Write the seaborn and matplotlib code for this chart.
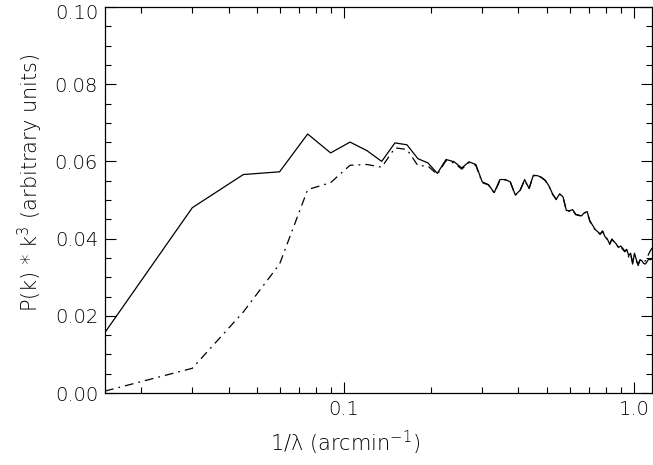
import numpy as np
import pandas as pd
import matplotlib
matplotlib.use("Agg")
import matplotlib.pyplot as plt
import matplotlib.ticker as mticker
import matplotlib.transforms as mtransforms
import seaborn as sns

# spatial frequency 1/lambda (arcmin^-1)
freq = [0.015, 0.030, 0.045, 0.060, 0.075, 0.090, 0.105, 0.120, 0.135, 0.150,
        0.165, 0.180, 0.195, 0.210, 0.225, 0.240, 0.255, 0.270, 0.285, 0.300,
        0.315, 0.330, 0.345, 0.360, 0.375, 0.390, 0.405, 0.420, 0.435, 0.450,
        0.465, 0.480, 0.495, 0.510, 0.525, 0.540, 0.555, 0.570, 0.585, 0.600,
        0.615, 0.630, 0.645, 0.660, 0.675, 0.690, 0.705, 0.720, 0.735, 0.750,
        0.765, 0.780, 0.795, 0.810, 0.825, 0.840, 0.855, 0.870, 0.885, 0.900,
        0.915, 0.930, 0.945, 0.960, 0.975, 0.990, 1.005, 1.020, 1.035, 1.050,
        1.065, 1.080, 1.095, 1.110, 1.125, 1.140, 1.155]

# P(k)*k^3, solid curve
power_solid = [0.0157, 0.0480, 0.0566, 0.0573, 0.0671, 0.0622, 0.0650, 0.0628, 0.0600, 0.0648,
               0.0643, 0.0607, 0.0596, 0.0569, 0.0605, 0.0599, 0.0583, 0.0599, 0.0592, 0.0547,
               0.0540, 0.0519, 0.0553, 0.0553, 0.0547, 0.0513, 0.0525, 0.0553, 0.0530, 0.0564,
               0.0563, 0.0559, 0.0551, 0.0536, 0.0515, 0.0502, 0.0516, 0.0508, 0.0473, 0.0472,
               0.0475, 0.0463, 0.0461, 0.0459, 0.0467, 0.0470, 0.0446, 0.0435, 0.0424, 0.0418,
               0.0412, 0.0420, 0.0405, 0.0399, 0.0386, 0.0399, 0.0392, 0.0386, 0.0377, 0.0381,
               0.0375, 0.0368, 0.0372, 0.0356, 0.0362, 0.0334, 0.0362, 0.0345, 0.0330, 0.0345,
               0.0343, 0.0336, 0.0334, 0.0340, 0.0347, 0.0345, 0.0348]

# P(k)*k^3, dash-dot curve
power_dashdot = [0.0005, 0.0064, 0.0210, 0.0334, 0.0527, 0.0545, 0.0590, 0.0592, 0.0585, 0.0635,
                 0.0631, 0.0589, 0.0588, 0.0566, 0.0602, 0.0596, 0.0580, 0.0597, 0.0590, 0.0545,
                 0.0539, 0.0518, 0.0550, 0.0552, 0.0546, 0.0512, 0.0524, 0.0551, 0.0529, 0.0563,
                 0.0562, 0.0558, 0.0550, 0.0535, 0.0514, 0.0501, 0.0515, 0.0507, 0.0472, 0.0471,
                 0.0474, 0.0462, 0.0460, 0.0458, 0.0466, 0.0469, 0.0445, 0.0434, 0.0423, 0.0417,
                 0.0411, 0.0419, 0.0404, 0.0398, 0.0385, 0.0398, 0.0391, 0.0385, 0.0376, 0.0380,
                 0.0372, 0.0366, 0.0370, 0.0352, 0.0360, 0.0338, 0.0357, 0.0342, 0.0334, 0.0344,
                 0.0346, 0.0340, 0.0342, 0.0350, 0.0360, 0.0368, 0.0376]

y_ticks = [0.00, 0.02, 0.04, 0.06, 0.08, 0.10]
x_ticks = [0.1, 1.0]
x_ticklabels = ["0.1", "1.0"]

df = pd.concat([
    pd.DataFrame({"freq": freq, "power": power_solid, "curve": "solid"}),
    pd.DataFrame({"freq": freq, "power": power_dashdot, "curve": "dashdot"}),
], ignore_index=True)

sns.set_theme(style="ticks")
plt.rcParams["font.family"] = ["DejaVu Sans"]
plt.rcParams["font.weight"] = "light"
plt.rcParams["axes.labelweight"] = "light"

fig = plt.figure(figsize=(6.53, 4.65), dpi=100)
top_px, bottom_px = 7, 393
ax = fig.add_axes([105 / 653, 1 - bottom_px / 465, (652 - 105) / 653, (bottom_px - top_px) / 465])

sns.lineplot(data=df, x="freq", y="power", style="curve",
             dashes={"solid": "", "dashdot": (7, 4, 1.5, 4)},
             color="black", linewidth=0.9, estimator=None, sort=False,
             legend=False, ax=ax)

ax.set_xscale("log")
ax.set_xlim(0.015, 1.155)
ax.set_ylim(0.0, 0.1)

ax.set_xticks(x_ticks)
ax.set_xticklabels(x_ticklabels)
ax.xaxis.set_minor_locator(mticker.LogLocator(base=10, subs=np.arange(2, 10)))
ax.xaxis.set_minor_formatter(mticker.NullFormatter())
ax.set_yticks(y_ticks)
ax.yaxis.set_major_formatter(mticker.FormatStrFormatter("%.2f"))
ax.yaxis.set_minor_locator(mticker.MultipleLocator(0.005))

for s in ax.spines.values():
    s.set_visible(True)
    s.set_color("black")
    s.set_linewidth(0.9)

ax.tick_params(which="both", direction="in", top=True, right=True,
               color="black", width=0.8)
ax.tick_params(which="major", length=8, labelsize=14, pad=5, labelcolor="black")
ax.tick_params(which="minor", length=4.5)

ax.set_xlabel("1/\u03bb (arcmin$^{-1}$)", fontsize=15, color="black", fontweight="light")
ax.set_ylabel("P(k) * k$^3$ (arbitrary units)", fontsize=15, color="black", fontweight="light")
ax.xaxis.set_label_coords((345 - 105) / 547, -(443 - 393) / 386, transform=ax.transAxes)
ax.yaxis.set_label_coords(-(105 - 30) / 547, (393 - 183) / 386, transform=ax.transAxes)
ax.xaxis.label.set_verticalalignment("center")
ax.yaxis.label.set_verticalalignment("center")

fig.canvas.draw()
# keep the topmost y label inside the figure
for lbl in ax.get_yticklabels():
    if lbl.get_text() == "0.10":
        lbl.set_transform(lbl.get_transform() +
                          mtransforms.ScaledTranslation(0, -4 / 100, fig.dpi_scale_trans))

fig.savefig("out.png", dpi=100, facecolor="white")
